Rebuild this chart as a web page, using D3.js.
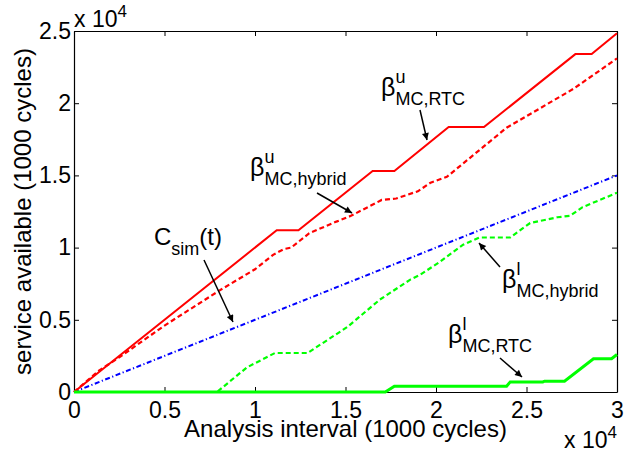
<!DOCTYPE html>
<html lang="en">
<head>
<meta charset="UTF-8">
<title>Service available</title>
<script src="https://d3js.org/d3.v7.min.js"></script>
<style>
  body { margin: 0; background: #fff; }
  text { font-family: Arial, "Liberation Sans", Helvetica, sans-serif; fill: #000; }
</style>
</head>
<body>
<script>
  // values in cycles (x 1000); axes show them divided by 10^4
  var xTicks = [0, 5000, 10000, 15000, 20000, 25000, 30000];
  var yTicks = [0, 5000, 10000, 15000, 20000, 25000];

  // upper bound, RTC
  var rtcUpperX = [0, 11200, 12400, 16500, 17700, 20700, 22650, 27700, 28600, 30000];
  var rtcUpperY = [0, 11200, 11200, 15300, 15300, 18350, 18350, 23400, 23400, 24850];

  // upper bound, hybrid
  var hybUpperX = [0, 1400, 2500, 5000, 8000, 10000, 11000, 11600, 12000, 13000, 14500, 15300, 17000, 17800, 19000, 19700, 20600, 23900, 27600, 30000];
  var hybUpperY = [0, 1500, 2400, 4600, 7000, 8500, 9500, 9900, 10000, 11000, 11800, 12200, 13300, 13400, 13900, 14500, 14900, 18300, 21000, 23100];

  // simulated service
  var simX = [0, 10000, 20000, 30000];
  var simY = [0, 5000, 10000, 15000];

  // lower bound, hybrid
  var hybLowerX = [0, 7900, 9550, 11100, 12900, 15100, 16900, 18600, 19100, 20200, 21500, 22400, 24100, 25200, 26700, 27400, 28100, 30000];
  var hybLowerY = [0, 0, 1700, 2700, 2700, 4500, 6400, 7800, 8100, 9000, 10200, 10700, 10700, 11700, 12100, 12200, 12800, 13800];

  // lower bound, RTC
  var rtcLowerX = [0, 17200, 17700, 23900, 24100, 25900, 26000, 27100, 28700, 29700, 30000];
  var rtcLowerY = [0, 0, 400, 400, 700, 700, 750, 750, 2300, 2300, 2600];

  var width = 627, height = 453;
  var pLeft = 74, pRight = 617, pTop = 31, pBottom = 392;

  var x = d3.scaleLinear().domain([0, 30000]).range([pLeft, pRight]);
  var y = d3.scaleLinear().domain([0, 25000]).range([pBottom, pTop]);
  var fmt = function (d) { return String(d / 10000); };

  var svg = d3.select("body").append("svg")
    .attr("width", width)
    .attr("height", height);

  function pairs(xs, ys) {
    return xs.map(function (v, i) { return [v, ys[i]]; });
  }

  var line = d3.line()
    .x(function (d) { return x(d[0]); })
    .y(function (d) { return y(d[1]); });

  // axes with inward ticks on all four sides
  var ax = svg.append("g");
  ax.append("g").attr("transform", "translate(0," + pBottom + ")")
    .call(d3.axisBottom(x).tickValues(xTicks).tickFormat(fmt).tickSizeInner(-5).tickSizeOuter(0).tickPadding(10));
  ax.append("g").attr("transform", "translate(0," + pTop + ")")
    .call(d3.axisTop(x).tickValues(xTicks).tickFormat("").tickSizeInner(-5).tickSizeOuter(0));
  ax.append("g").attr("transform", "translate(" + pLeft + ",0)")
    .call(d3.axisLeft(y).tickValues(yTicks).tickFormat(fmt).tickSizeInner(-5).tickSizeOuter(0).tickPadding(3));
  ax.append("g").attr("transform", "translate(" + pRight + ",0)")
    .call(d3.axisRight(y).tickValues(yTicks).tickFormat("").tickSizeInner(-5).tickSizeOuter(0));
  ax.selectAll("g").attr("font-size", 23).attr("font-family", "Arial, 'Liberation Sans', sans-serif");
  ax.selectAll("path.domain").attr("stroke", "#000").attr("stroke-width", 1.2);
  ax.selectAll(".tick line").attr("stroke", "#000");
  ax.selectAll(".tick text").attr("fill", "#000");

  // series
  var series = [
    { xs: simX, ys: simY, color: "#0000ff", dash: "5,2.5,1.2,2.5", w: 2 },
    { xs: hybUpperX, ys: hybUpperY, color: "#ff0000", dash: "5,3", w: 2.2 },
    { xs: rtcUpperX, ys: rtcUpperY, color: "#ff0000", dash: null, w: 2 },
    { xs: hybLowerX, ys: hybLowerY, color: "#00ff00", dash: "5,3", w: 2.2 },
    { xs: rtcLowerX, ys: rtcLowerY, color: "#00ff00", dash: null, w: 3 }
  ];
  svg.selectAll("path.series")
    .data(series)
    .enter().append("path")
    .attr("class", "series")
    .attr("d", function (d) { return line(pairs(d.xs, d.ys)); })
    .attr("fill", "none")
    .attr("stroke", function (d) { return d.color; })
    .attr("stroke-width", function (d) { return d.w; })
    .attr("stroke-dasharray", function (d) { return d.dash; });

  // axis labels
  svg.append("text")
    .attr("x", (pLeft + pRight) / 2).attr("y", 437)
    .attr("text-anchor", "middle").attr("font-size", 24)
    .text("Analysis interval (1000 cycles)");
  svg.append("text")
    .attr("transform", "translate(31," + (pTop + pBottom) / 2 + ") rotate(-90)")
    .attr("text-anchor", "middle").attr("font-size", 24)
    .text("service available (1000 cycles)");

  // exponent markers
  var e1 = svg.append("text").attr("x", pLeft).attr("y", 27).attr("font-size", 23);
  e1.append("tspan").text("x 10");
  e1.append("tspan").attr("dy", -10).attr("font-size", 17).text("4");
  var e2 = svg.append("text").attr("x", pRight).attr("y", 448).attr("font-size", 23).attr("text-anchor", "end");
  e2.append("tspan").text("x 10");
  e2.append("tspan").attr("dy", -10).attr("font-size", 17).text("4");

  // annotations
  svg.append("defs").append("marker")
    .attr("id", "head")
    .attr("viewBox", "0 0 10 10")
    .attr("refX", 10).attr("refY", 5)
    .attr("markerWidth", 9).attr("markerHeight", 7)
    .attr("markerUnits", "userSpaceOnUse")
    .attr("orient", "auto")
    .append("path").attr("d", "M0,0L10,5L0,10Z").attr("fill", "#000");

  function beta(x0, subBase, sup, sub) {
    var b = svg.append("text").attr("x", x0).attr("y", subBase - 9).attr("font-size", 25).text("\u03b2");
    var bw = b.node().getComputedTextLength();
    svg.append("text").attr("x", x0 + bw).attr("y", subBase - 22).attr("font-size", 18).text(sup);
    svg.append("text").attr("x", x0 + bw).attr("y", subBase).attr("font-size", 18).text(sub);
  }
  function arrow(x1, y1, x2, y2) {
    svg.append("line")
      .attr("x1", x1).attr("y1", y1).attr("x2", x2).attr("y2", y2)
      .attr("stroke", "#000").attr("stroke-width", 1.5)
      .attr("marker-end", "url(#head)");
  }

  beta(381, 105, "u", "MC,RTC");
  arrow(420, 110, 427, 140);
  beta(250, 185, "u", "MC,hybrid");
  arrow(317, 193, 352, 213);
  beta(502, 297, "l", "MC,hybrid");
  arrow(500, 267, 479, 243);
  beta(448, 352, "l", "MC,RTC");
  arrow(500, 358, 522, 377);

  var cs = svg.append("text").attr("x", 154).attr("y", 245).attr("font-size", 24);
  cs.append("tspan").text("C");
  cs.append("tspan").attr("dy", 10).attr("font-size", 18).text("sim");
  cs.append("tspan").attr("dy", -10).text("(t)");
  arrow(204, 260, 233, 322);
</script>
</body>
</html>
